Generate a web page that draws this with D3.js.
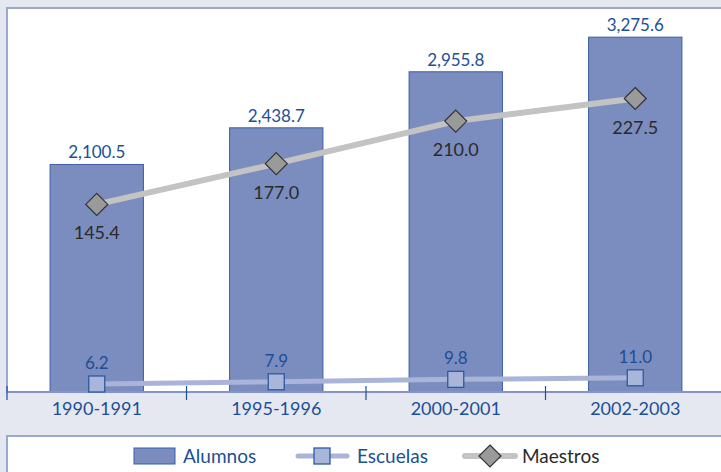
<!DOCTYPE html>
<html>
<head>
<meta charset="utf-8">
<script src="https://cdn.jsdelivr.net/npm/d3@7"></script>
<style>
  html, body { margin: 0; padding: 0; background: #e5e8f1; }
  svg { display: block; }
  text { font-family: Lato, "Open Sans", sans-serif; }
</style>
</head>
<body>
<svg id="chart" width="721" height="472"></svg>
<script>
const categories = ["1990-1991", "1995-1996", "2000-2001", "2002-2003"];
const alumnos = [2100.5, 2438.7, 2955.8, 3275.6];
const escuelas = [6.2, 7.9, 9.8, 11.0];
const maestros = [145.4, 177.0, 210.0, 227.5];
const legendLabels = ["Alumnos", "Escuelas", "Maestros"];

const W = 721, H = 472;
const baseY = 392;
const blueText = "#1b4f96";
const borderCol = "#9aa8d2";

const svg = d3.select("#chart");

svg.append("rect").attr("x", 0).attr("y", 0).attr("width", W).attr("height", H).attr("fill", "#e5e8f1");

// plot area
svg.append("rect").attr("x", 7).attr("y", 8).attr("width", W).attr("height", baseY - 8)
  .attr("fill", "#ffffff").attr("stroke", borderCol).attr("stroke-width", 2);

const x = d3.scaleBand().domain(categories).range([7, 725]).paddingInner(0.48).paddingOuter(0.24);
const y = d3.scaleLinear().domain([0, 3600]).range([baseY, 2]);
const y2 = d3.scaleLinear().domain([0, 300]).range([baseY, 5]);
const cx = c => x(c) + x.bandwidth() / 2;

// bars
svg.append("g").selectAll("rect").data(alumnos).join("rect")
  .attr("x", (d, i) => x(categories[i]))
  .attr("y", d => y(d))
  .attr("width", x.bandwidth())
  .attr("height", d => baseY - y(d))
  .attr("fill", "#7b8cbf")
  .attr("stroke", "#3a5ea5")
  .attr("stroke-width", 1);

// bar labels
svg.append("g").selectAll("text").data(alumnos).join("text")
  .attr("x", (d, i) => cx(categories[i]))
  .attr("y", d => y(d) - 6)
  .attr("text-anchor", "middle")
  .attr("font-size", 17)
  .attr("fill", blueText)
  .text(d => d3.format(",.1f")(d));

// axis line
svg.append("line").attr("x1", 7).attr("x2", W).attr("y1", baseY).attr("y2", baseY)
  .attr("stroke", "#8294c8").attr("stroke-width", 2);

// boundary ticks
const gap = x.step() - x.bandwidth();
const bounds = categories.map(c => x(c) - gap / 2);
svg.append("g").selectAll("line").data(bounds).join("line")
  .attr("x1", d => d).attr("x2", d => d)
  .attr("y1", 386).attr("y2", 400)
  .attr("stroke", blueText).attr("stroke-width", 1.2);

// category labels
svg.append("g").selectAll("text").data(categories).join("text")
  .attr("x", d => cx(d))
  .attr("y", 415)
  .attr("text-anchor", "middle")
  .attr("font-size", 18)
  .attr("fill", blueText)
  .text(d => d);

// Escuelas line
const lineE = d3.line().x((d, i) => cx(categories[i])).y(d => y2(d));
svg.append("path").datum(escuelas).attr("d", lineE)
  .attr("fill", "none").attr("stroke", "#a9b4d8").attr("stroke-width", 5);

// Maestros line
const lineM = d3.line().x((d, i) => cx(categories[i])).y(d => y2(d));
svg.append("path").datum(maestros).attr("d", lineM)
  .attr("fill", "none").attr("stroke", "#c3c3c3").attr("stroke-width", 6);

// Escuelas markers
const sq = 16;
svg.append("g").selectAll("rect").data(escuelas).join("rect")
  .attr("x", (d, i) => cx(categories[i]) - sq / 2)
  .attr("y", d => y2(d) - sq / 2)
  .attr("width", sq).attr("height", sq)
  .attr("fill", "#aab5da").attr("stroke", "#2a5aa0").attr("stroke-width", 1.3);

svg.append("g").selectAll("text").data(escuelas).join("text")
  .attr("x", (d, i) => cx(categories[i]))
  .attr("y", d => y2(d) - 15)
  .attr("text-anchor", "middle")
  .attr("font-size", 17)
  .attr("fill", blueText)
  .text(d => d3.format(".1f")(d));

// Maestros markers
const dia = 11;
const diamond = (px, py) => `M${px},${py - dia}L${px + dia},${py}L${px},${py + dia}L${px - dia},${py}Z`;
svg.append("g").selectAll("path").data(maestros).join("path")
  .attr("d", (d, i) => diamond(cx(categories[i]), y2(d)))
  .attr("fill", "#9a9a9a").attr("stroke", "#333333").attr("stroke-width", 1.2);

svg.append("g").selectAll("text").data(maestros).join("text")
  .attr("x", (d, i) => cx(categories[i]))
  .attr("y", d => y2(d) + 35)
  .attr("text-anchor", "middle")
  .attr("font-size", 18)
  .attr("fill", "#2a2a2a")
  .text(d => d3.format(".1f")(d));

// legend box
svg.append("rect").attr("x", 7).attr("y", 436).attr("width", W).attr("height", 60)
  .attr("fill", "#ffffff").attr("stroke", borderCol).attr("stroke-width", 2);

const lg = svg.append("g");
const ly = 456;
// Alumnos
lg.append("rect").attr("x", 134).attr("y", 448).attr("width", 41).attr("height", 16)
  .attr("fill", "#7b8cbf").attr("stroke", "#3a5ea5").attr("stroke-width", 1);
lg.append("text").attr("x", 183).attr("y", 463).attr("font-size", 19).attr("fill", blueText).text(legendLabels[0]);
// Escuelas
lg.append("line").attr("x1", 298).attr("x2", 347).attr("y1", ly).attr("y2", ly)
  .attr("stroke", "#a9b4d8").attr("stroke-width", 5).attr("stroke-linecap", "round");
lg.append("rect").attr("x", 322 - sq / 2).attr("y", ly - sq / 2).attr("width", sq).attr("height", sq)
  .attr("fill", "#aab5da").attr("stroke", "#2a5aa0").attr("stroke-width", 1.3);
lg.append("text").attr("x", 357).attr("y", 463).attr("font-size", 19).attr("fill", blueText).text(legendLabels[1]);
// Maestros
lg.append("line").attr("x1", 465).attr("x2", 515).attr("y1", ly).attr("y2", ly)
  .attr("stroke", "#c3c3c3").attr("stroke-width", 6).attr("stroke-linecap", "round");
lg.append("path").attr("d", diamond(490, ly))
  .attr("fill", "#9a9a9a").attr("stroke", "#333333").attr("stroke-width", 1.2);
lg.append("text").attr("x", 522).attr("y", 463).attr("font-size", 19).attr("fill", "#2a2a2a").text(legendLabels[2]);
</script>
</body>
</html>
